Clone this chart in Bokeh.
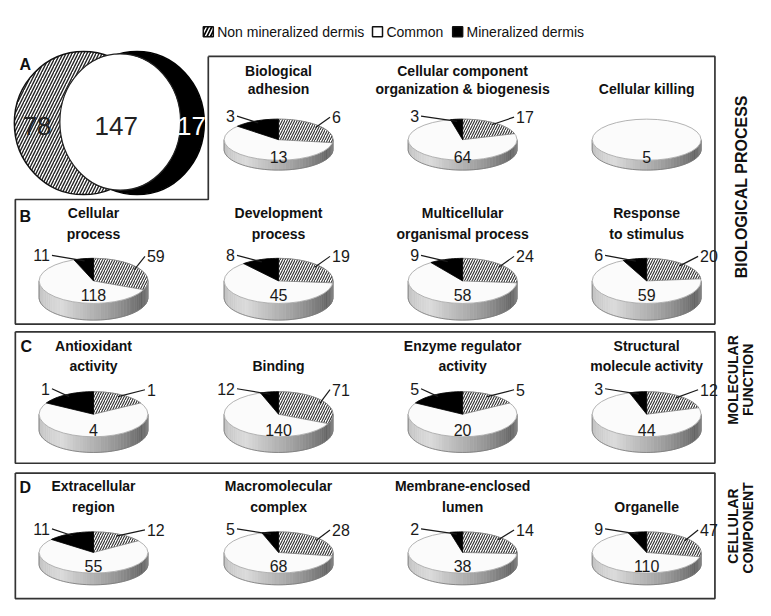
import math
from bokeh.plotting import figure
from bokeh.models import Range1d
from bokeh.embed import file_html
from bokeh.resources import INLINE
from bokeh.core.properties import value

# ---------------- data ----------------
legend_labels = ["Non mineralized dermis", "Common", "Mineralized dermis"]
venn_counts = [78, 147, 17]  # non mineralized only, common, mineralized only

pie_title_line1 = ["Biological", "Cellular component", "", "Cellular", "Development",
                   "Multicellular", "Response", "Antioxidant", "", "Enzyme regulator",
                   "Structural", "Extracellular", "Macromolecular", "Membrane-enclosed", ""]
pie_title_line2 = ["adhesion", "organization & biogenesis", "Cellular killing", "process",
                   "process", "organismal process", "to stimulus", "activity", "Binding",
                   "activity", "molecule activity", "region", "complex", "lumen", "Organelle"]
mineralized = [3, 3, 0, 11, 8, 9, 6, 1, 12, 5, 3, 11, 5, 2, 9]
common = [13, 64, 5, 118, 45, 58, 59, 4, 140, 20, 44, 55, 68, 38, 110]
non_mineralized = [6, 17, 0, 59, 19, 24, 20, 1, 71, 5, 12, 12, 28, 14, 47]
pie_row = [0, 0, 0, 1, 1, 1, 1, 2, 2, 2, 2, 3, 3, 3, 3]
pie_col = [1, 2, 3, 0, 1, 2, 3, 0, 1, 2, 3, 0, 1, 2, 3]
panel_letters = ["A", "B", "C", "D"]
side_line1 = ["BIOLOGICAL PROCESS", "MOLECULAR", "CELLULAR"]
side_line2 = ["", "FUNCTION", "COMPONENT"]

# ---------------- layout ----------------
FONT = value("Liberation Sans")
COL_X = [94, 281, 467, 653]
ROWS = [dict(t1=72, t2=90, cy=142, ry=21, wall=10, val=18),
        dict(t1=217, t2=238, cy=286, ry=23, wall=17, val=14),
        dict(t1=352, t2=373, cy=422, ry=23, wall=16, val=16),
        dict(t1=495, t2=517, cy=563, ry=21, wall=12, val=14)]
RX = 55

p = figure(width=755, height=600, x_range=Range1d(0, 763), y_range=Range1d(612, 0),
           output_backend="svg", toolbar_location=None, min_border=0,
           x_axis_location=None, y_axis_location=None)
p.grid.visible = False
p.outline_line_color = None
p.background_fill_color = "white"


def ell_pt(cx, cy, rx, ry, th):
    return cx + rx * math.cos(th), cy - ry * math.sin(th)


def wedge(cx, cy, rx, ry, a0, a1):
    n = max(6, int(abs(a1 - a0) / math.radians(3)))
    xs, ys = [cx], [cy]
    for k in range(n + 1):
        x, y = ell_pt(cx, cy, rx, ry, a0 + (a1 - a0) * k / n)
        xs.append(x)
        ys.append(y)
    return xs, ys


SH = [(0.0, 0.74), (0.3, 0.86), (0.6, 0.62), (0.85, 0.40), (1.0, 0.55)]


def shade(t):
    for (t0, v0), (t1, v1) in zip(SH[:-1], SH[1:]):
        if t0 <= t <= t1:
            v = v0 + (v1 - v0) * (t - t0) / (t1 - t0)
            g = int(255 * v)
            return "#%02x%02x%02x" % (g, g, g)
    return "#999999"


# ---------------- boxes ----------------
p.line([210, 722, 722, 15, 15, 210, 210], [57, 57, 330, 330, 203, 203, 57],
       line_color="#333333", line_width=1.7)
p.line([15, 722, 722, 15, 15], [338, 338, 472, 472, 338], line_color="#333333", line_width=1.7)
p.line([15, 722, 722, 15, 15], [482, 482, 610, 610, 482], line_color="#333333", line_width=1.7)

# ---------------- venn ----------------
p.ellipse(x=[84], y=[125], width=[140], height=[146], fill_color="white",
          hatch_pattern="/", hatch_scale=6, hatch_weight=1.4, hatch_color="#222222",
          line_color="#111111", line_width=1.5)
p.ellipse(x=[138], y=[125], width=[136], height=[146], fill_color="black",
          line_color="black", line_width=1.5)
p.ellipse(x=[121], y=[124], width=[122], height=[139], fill_color="white",
          line_color="#222222", line_width=1.2)
p.text(x=[37, 117, 193], y=[128, 128, 128], text=[str(v) for v in venn_counts],
       text_color=["#222222", "#222222", "white"], text_font=FONT, text_font_size="26px",
       text_align="center", text_baseline="middle")

# ---------------- pies ----------------
wall_xs, wall_ys, wall_c = [], [], []
white_xs, white_ys = [], []
black_xs, black_ys = [], []
hatch_xs, hatch_ys = [], []
ell_x, ell_y, ell_w, ell_h = [], [], [], []
base_xs, base_ys = [], []
seg = dict(x0=[], y0=[], x1=[], y1=[])
lab_l = dict(x=[], y=[], text=[])
lab_r = dict(x=[], y=[], text=[])
val = dict(x=[], y=[], text=[])
t_x, t_y, t_text = [], [], []

for i in range(len(common)):
    r = ROWS[pie_row[i]]
    cx, cy, ry, wall = COL_X[pie_col[i]], r["cy"], r["ry"], r["wall"]
    total = mineralized[i] + common[i] + non_mineralized[i]
    ab = 2 * math.pi * mineralized[i] / total
    ah = 2 * math.pi * non_mineralized[i] / total
    top = math.pi / 2
    # side wall
    n = 48
    for k in range(n):
        a0 = math.pi + math.pi * k / n
        a1 = math.pi + math.pi * (k + 1) / n
        x0, y0 = ell_pt(cx, cy, RX, ry, a0)
        x1, y1 = ell_pt(cx, cy, RX, ry, a1)
        wall_xs.append([x0, x1, x1, x0])
        wall_ys.append([y0, y1, y1 + wall, y0 + wall])
        wall_c.append(shade((k + 0.5) / n))
    bx, by = [], []
    for k in range(n + 1):
        x, y = ell_pt(cx, cy, RX, ry, math.pi + math.pi * k / n)
        bx.append(x)
        by.append(y + wall)
    base_xs.append([bx[0], bx[0]] + bx + [bx[-1], bx[-1]])
    base_ys.append([by[0] - wall, by[0]] + by + [by[-1], by[-1] - wall])
    # top surface
    if mineralized[i] == 0 and non_mineralized[i] == 0:
        wx, wy = wedge(cx, cy, RX, ry, 0, 2 * math.pi)
        white_xs.append(wx[1:])
        white_ys.append(wy[1:])
    else:
        wx, wy = wedge(cx, cy, RX, ry, top + ab, top - ah + 2 * math.pi)
        white_xs.append(wx)
        white_ys.append(wy)
    ell_x.append(cx)
    ell_y.append(cy)
    ell_w.append(2 * RX)
    ell_h.append(2 * ry)
    if mineralized[i] > 0:
        bxs, bys = wedge(cx, cy, RX, ry, top, top + ab)
        black_xs.append(bxs)
        black_ys.append(bys)
        m = top + ab / 2
        px, py = ell_pt(cx, cy, RX * 0.9, ry * 0.9, m)
        ly = cy - ry - 3
        seg["x0"].append(cx - 42)
        seg["y0"].append(ly)
        seg["x1"].append(px)
        seg["y1"].append(py)
        lab_l["x"].append(cx - 44)
        lab_l["y"].append(ly)
        lab_l["text"].append(str(mineralized[i]))
    if non_mineralized[i] > 0:
        hxs, hys = wedge(cx, cy, RX, ry, top - ah, top)
        hatch_xs.append(hxs)
        hatch_ys.append(hys)
        m = top - ah / 2
        px, py = ell_pt(cx, cy, RX * 0.9, ry * 0.9, m)
        ly = cy - ry - 2
        seg["x0"].append(cx + 52)
        seg["y0"].append(ly)
        seg["x1"].append(px)
        seg["y1"].append(py)
        lab_r["x"].append(cx + 54)
        lab_r["y"].append(ly)
        lab_r["text"].append(str(non_mineralized[i]))
    val["x"].append(cx)
    val["y"].append(cy + r["val"])
    val["text"].append(str(common[i]))
    if pie_title_line1[i]:
        t_x.append(cx)
        t_y.append(r["t1"])
        t_text.append(pie_title_line1[i])
    t_x.append(cx)
    t_y.append(r["t2"])
    t_text.append(pie_title_line2[i])

p.patches(wall_xs, wall_ys, fill_color=wall_c, line_color=wall_c, line_width=0.6)
p.multi_line(base_xs, base_ys, line_color="#777777", line_width=0.8)
p.patches(white_xs, white_ys, fill_color="#fbfbfb", line_color=None)
p.ellipse(x=ell_x, y=ell_y, width=ell_w, height=ell_h, fill_color=None,
          line_color="#aaaaaa", line_width=0.9)
p.patches(hatch_xs, hatch_ys, fill_color="white", hatch_pattern="/", hatch_scale=5,
          hatch_weight=1.1, hatch_color="#2e2e2e", line_color="#777777", line_width=0.7)
p.patches(black_xs, black_ys, fill_color="black", line_color="black", line_width=0.8)
p.segment(x0=seg["x0"], y0=seg["y0"], x1=seg["x1"], y1=seg["y1"],
          line_color="#1a1a1a", line_width=1.2)
p.text(x=lab_l["x"], y=lab_l["y"], text=lab_l["text"], text_font=FONT, text_font_size="16px",
       text_color="#1a1a1a", text_align="right", text_baseline="middle")
p.text(x=lab_r["x"], y=lab_r["y"], text=lab_r["text"], text_font=FONT, text_font_size="16px",
       text_color="#1a1a1a", text_align="left", text_baseline="middle")
p.text(x=val["x"], y=val["y"], text=val["text"], text_font=FONT, text_font_size="16px",
       text_color="#1a1a1a", text_align="center", text_baseline="middle")
p.text(x=t_x, y=t_y, text=t_text, text_font=FONT, text_font_size="14px",
       text_font_style="bold", text_color="#111111", text_align="center",
       text_baseline="middle")

# ---------------- panel letters ----------------
p.text(x=[25, 25, 26, 25], y=[65, 220, 353, 497], text=panel_letters, text_font=FONT,
       text_font_size="16px", text_font_style="bold", text_color="#111111",
       text_align="center", text_baseline="middle")

# ---------------- side labels ----------------
p.text(x=[749, 740, 740], y=[190, 387, 536], text=side_line1, angle=math.pi / 2,
       text_font=FONT, text_font_size=["16px", "14px", "14px"], text_font_style="bold",
       text_color="#111111", text_align="center", text_baseline="middle")
p.text(x=[755, 755], y=[387, 538], text=side_line2[1:], angle=math.pi / 2,
       text_font=FONT, text_font_size="14px", text_font_style="bold",
       text_color="#111111", text_align="center", text_baseline="middle")

# ---------------- legend ----------------
leg_icon_x = [210, 381, 462]
leg_text_x = [219, 390, 471]
p.rect(x=[leg_icon_x[0]], y=[32], width=10, height=10, width_units="screen",
       height_units="screen", fill_color="black", hatch_pattern="/", hatch_scale=7,
       hatch_weight=1.5, hatch_color="white", line_color="#111111", line_width=1.5)
p.rect(x=leg_icon_x[1:], y=[32, 32], width=10, height=10, width_units="screen",
       height_units="screen", fill_color=["white", "black"], line_color="#111111",
       line_width=1.5)
p.text(x=leg_text_x, y=[32, 32, 32], text=legend_labels, text_font=FONT,
       text_font_size="14px", text_color="#111111", text_align="left",
       text_baseline="middle")

open("out.html", "w").write(file_html(p, INLINE))
